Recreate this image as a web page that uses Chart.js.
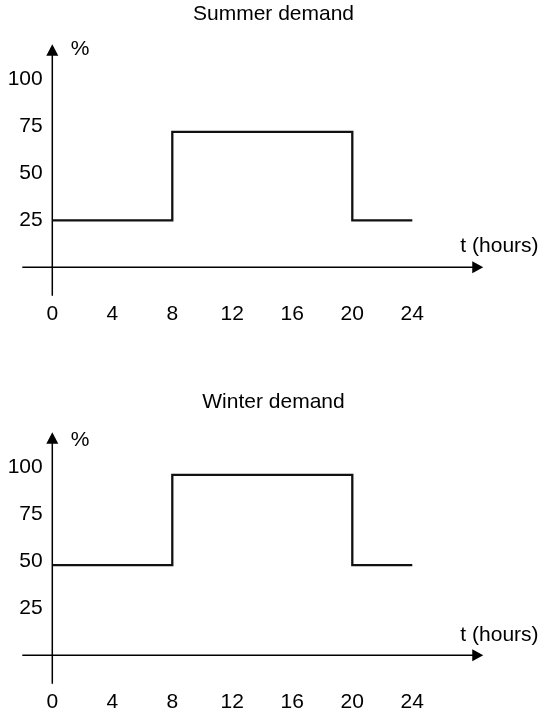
<!DOCTYPE html>
<html>
<head>
<meta charset="utf-8">
<script src="https://cdn.jsdelivr.net/npm/chart.js@4/dist/chart.umd.min.js"></script>
<style>
  html, body { margin: 0; padding: 0; background: #fff; overflow: hidden; }
  .box { position: absolute; left: 0; width: 541px; }
</style>
</head>
<body>
<div class="box" style="top:0;height:388px"><canvas id="c1"></canvas></div>
<div class="box" style="top:388px;height:327px"><canvas id="c2"></canvas></div>
<script>
// ---- data ----
const hours = [0, 8, 20, 24];
const summerDemand = [25, 72, 25, 25];
const winterDemand = [48, 96, 48, 48];
const xTickValues = [0, 4, 8, 12, 16, 20, 24];
const yTickValues = [25, 50, 75, 100];
const chartTitles = ['Summer demand', 'Winter demand'];
const xAxisLabel = 't (hours)';
const yAxisLabel = '%';

const FONT = '"Liberation Sans", Arial, Helvetica, sans-serif';
Chart.defaults.font.family = FONT;
Chart.defaults.font.size = 21;
Chart.defaults.color = '#000';

const axisArrows = {
  id: 'axisArrows',
  beforeDatasetsDraw(chart, args, o) {
    const { ctx, scales: { x, y } } = chart;
    const x0 = x.getPixelForValue(0), y0 = y.getPixelForValue(0);
    const xL = x.getPixelForValue(o.xFrom), xR = x.getPixelForValue(o.xTo);
    const yT = y.getPixelForValue(o.yTo), yB = y.getPixelForValue(o.yFrom);
    ctx.save();
    ctx.strokeStyle = '#000';
    ctx.fillStyle = '#000';
    ctx.lineWidth = 1.5;
    ctx.beginPath();
    ctx.moveTo(xL, y0); ctx.lineTo(xR - 9, y0);
    ctx.moveTo(x0, yB); ctx.lineTo(x0, yT + 9);
    ctx.stroke();
    ctx.beginPath();
    ctx.moveTo(xR, y0); ctx.lineTo(xR - 11, y0 - 6); ctx.lineTo(xR - 11, y0 + 6);
    ctx.closePath(); ctx.fill();
    ctx.beginPath();
    ctx.moveTo(x0, yT); ctx.lineTo(x0 - 6, yT + 11.5); ctx.lineTo(x0 + 6, yT + 11.5);
    ctx.closePath(); ctx.fill();
    ctx.font = '21px ' + FONT;
    ctx.textAlign = 'center';
    ctx.textBaseline = 'middle';
    ctx.fillText(yAxisLabel, x0 + o.pctDx, yT + o.pctDy);
    ctx.fillText(xAxisLabel, xR + o.tDx, y0 + o.tDy);
    ctx.restore();
  }
};

function makeChart(id, title, values, canvasH, pctDy, tDy) {
  const pts = hours.map((h, i) => ({ x: h, y: values[i] }));
  return new Chart(document.getElementById(id), {
    type: 'line',
    data: {
      datasets: [{
        data: pts,
        stepped: 'before',
        borderColor: '#111',
        borderWidth: 2.3,
        borderJoinStyle: 'miter',
        borderCapStyle: 'butt',
        pointRadius: 0,
        fill: false
      }]
    },
    options: {
      responsive: true,
      maintainAspectRatio: false,
      animation: false,
      devicePixelRatio: 1,
      layout: { padding: { left: 6, right: 0, top: 0, bottom: 0 } },
      plugins: {
        legend: { display: false },
        tooltip: { enabled: false },
        title: {
          display: true,
          text: title,
          color: '#000',
          font: { size: 21, weight: 'normal', family: FONT },
          padding: { top: 1.9, bottom: 17.2 }
        },
        axisArrows: { xFrom: -2, xTo: 28.73, yFrom: -15.1, yTo: 118.6,
                      pctDx: 27.7, pctDy: pctDy, tDx: 16.2, tDy: tDy }
      },
      scales: {
        x: {
          type: 'linear',
          min: 0,
          max: 32.58,
          grid: { display: false, drawTicks: false },
          border: { display: false },
          ticks: { padding: 5.7, maxRotation: 0, autoSkip: false, color: '#000', font: { size: 21 } },
          afterBuildTicks: s => { s.ticks = xTickValues.map(v => ({ value: v })); },
          afterFit: s => { s.height = canvasH - 295.7; }
        },
        y: {
          type: 'linear',
          min: -15.1,
          max: 118.6,
          grid: { display: false, drawTicks: false },
          border: { display: false },
          ticks: { padding: 9.6, color: '#000', font: { size: 21 } },
          afterBuildTicks: s => { s.ticks = yTickValues.map(v => ({ value: v })); },
          afterFit: s => { s.width = 46.3; }
        }
      }
    },
    plugins: [axisArrows]
  });
}

makeChart('c1', chartTitles[0], summerDemand, 388, 4.7, -21.3);
makeChart('c2', chartTitles[1], winterDemand, 327, 8, -20);
</script>
</body>
</html>
